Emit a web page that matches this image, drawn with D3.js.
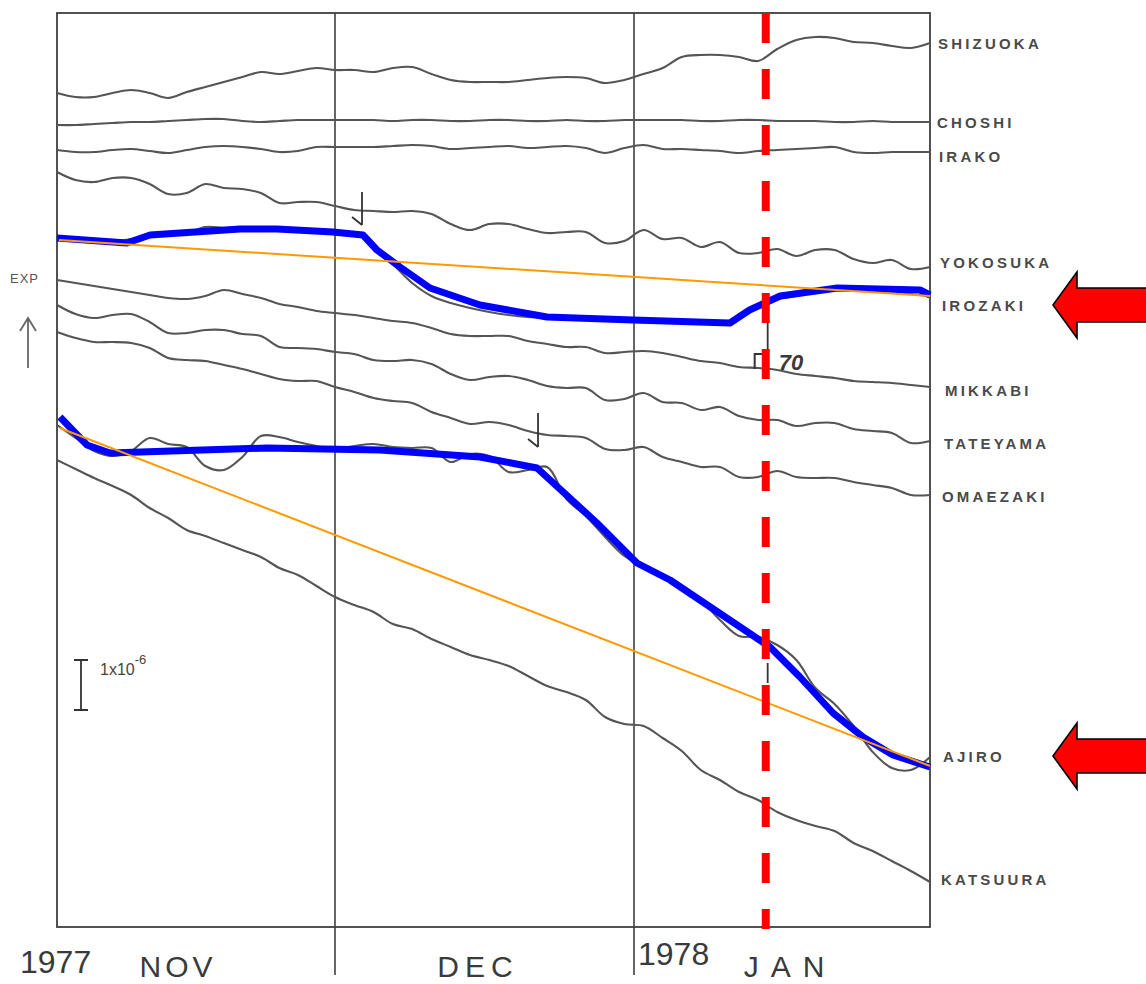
<!DOCTYPE html>
<html><head><meta charset="utf-8">
<script src="https://cdn.jsdelivr.net/npm/d3@7"></script>
<style>body{margin:0;background:#fff} svg{display:block}</style>
</head><body>
<svg id="c" width="1146" height="984"></svg>
<script>
// ---- data (strain, units of 1e-8, relative offsets per trace; EXP up) ----
const days = [0,2,4,6,8,10,12,14,16,18,20,22,24,26,28,30,
  32,34,36,38,40,42,44,46,48,50,52,54,56,58,60,
  62,64,66,68,70,72,74,76,78,80,82,84,86,88,90,92];

const shizuoka = [1668,1660,1660,1668,1674,1668,1658,1670,1680,1690,1700,1710,1706,1712,1718,1714,
  1714,1710,1718,1720,1706,1694,1690,1690,1690,1694,1698,1700,1698,1688,1694,
  1706,1718,1740,1744,1744,1740,1732,1756,1774,1780,1778,1770,1768,1762,1758,1768];
const choshi = [1604,1604,1606,1608,1610,1610,1612,1614,1616,1616,1612,1610,1612,1614,1614,1614,
  1614,1614,1612,1614,1614,1612,1612,1614,1614,1612,1612,1614,1612,1612,1614,
  1614,1614,1614,1612,1612,1614,1614,1612,1612,1612,1610,1610,1612,1610,1610,1610];
const irako = [1554,1550,1550,1554,1556,1552,1548,1554,1560,1562,1560,1556,1550,1552,1560,1560,
  1560,1560,1562,1564,1562,1556,1558,1560,1562,1558,1560,1562,1558,1548,1558,
  1564,1556,1556,1554,1552,1548,1552,1554,1556,1558,1560,1550,1548,1550,1550,1550];
const yokosuka = [1510,1494,1490,1498,1498,1486,1466,1468,1486,1478,1476,1468,1448,1450,1450,1442,
  1434,1432,1430,1432,1426,1406,1394,1406,1406,1396,1388,1390,1390,1368,1372,
  1394,1376,1378,1360,1370,1348,1348,1356,1342,1354,1354,1336,1328,1334,1316,1320];
const irozaki = [1378,1374,1372,1370,1376,1382,1386,1388,1400,1398,1396,1396,1394,1392,1390,1390,
  1388,1364,1326,1288,1262,1248,1238,1230,1224,1220,1218,1216,1214,1214,1214,
  1214,1212,1210,1210,1208,1218,1242,1256,1262,1270,1276,1276,1274,1272,1266,1262];
const mikkabi = [1294,1288,1282,1276,1270,1264,1258,1256,1262,1274,1266,1258,1246,1240,1232,1228,
  1224,1218,1212,1208,1198,1186,1182,1182,1182,1172,1166,1160,1160,1148,1150,
  1152,1148,1140,1132,1128,1120,1118,1114,1106,1102,1098,1092,1090,1088,1084,1080];
const tateyama = [1244,1226,1218,1224,1226,1210,1188,1188,1194,1194,1186,1182,1160,1158,1156,1150,
  1146,1134,1132,1134,1126,1106,1094,1100,1102,1094,1082,1078,1078,1054,1056,
  1068,1050,1048,1034,1040,1022,1014,1014,1002,1008,1008,996,992,988,968,972];
const omaezaki = [1190,1178,1170,1170,1168,1158,1138,1134,1132,1124,1116,1106,1096,1092,1092,1080,
  1070,1058,1052,1048,1030,1018,1006,1010,1004,992,984,982,978,956,954,
  960,940,930,920,920,900,900,912,900,898,898,890,884,878,864,864];
const ajiro = [1004,978,952,942,952,978,966,960,922,914,940,982,980,970,962,956,
  962,966,960,958,958,930,946,942,910,914,920,856,822,780,742,
  720,700,676,654,614,582,580,564,534,478,446,402,350,318,314,340];
const katsuura = [934,916,898,882,864,838,818,794,782,768,754,740,718,704,682,660,
  644,630,606,596,576,560,544,534,522,502,482,470,454,420,406,
  402,378,352,314,294,270,254,230,214,202,192,168,152,132,112,90];

const stations = ["SHIZUOKA","CHOSHI","IRAKO","YOKOSUKA","IROZAKI","MIKKABI","TATEYAMA","OMAEZAKI","AJIRO","KATSUURA"];
const series = [shizuoka, choshi, irako, yokosuka, irozaki, mikkabi, tateyama, omaezaki, ajiro, katsuura];
const labelValues = [1756,1598,1530,1318,1232,1062,956,850,330,84];
const labelDx = [8,7,9,10,12,15,14,12,13,11];

// hand-drawn overlay traces
const irozakiTraceDays = [0,7.55,10.04,19.75,23.74,29.78,32.9,34.35,36.74,39.85,45.03,51.98,60.9,71.05,73.1,76.3,82.3,90.95,92];
const irozakiTraceVals = [1378,1368,1384,1396,1396,1390,1384,1354,1320,1278,1244,1220,1214,1208,1234,1262,1278,1274,1264];
const ajiroTraceDays = [0.32,3.24,5.72,22.66,34.67,45.03,50.94,57.16,61.3,64.77,75.24,78.38,81.84,84.98,88.12,92];
const ajiroTraceVals = [1020,964,948,958,954,940,918,808,728,694,560,500,428,380,344,320];
const irozakiTrendDays = [0.2,92], irozakiTrendVals = [1374,1262];
const ajiroTrendDays = [0.3,92], ajiroTrendVals = [998,322];

const months = ["NOV","DEC","JAN"];
const monthStart = [0,30,61];
const endDay = 92;
const quakeDay = 74.8;
const scaleBarVals = [534,434];   // 1x10^-6 = 100 units

// ---- scales ----
const x = d3.scaleLinear().domain([0,30,61,92]).range([57,335,634,930]);
const y = d3.scaleLinear().domain([0,1828]).range([927,13]);

const svg = d3.select("#c");
const ink = "#3f3f3f";

// frame
const g = svg.append("g");
g.append("rect").attr("x",x(0)).attr("y",y(1828)).attr("width",x(endDay)-x(0)).attr("height",y(0)-y(1828))
  .attr("fill","none").attr("stroke",ink).attr("stroke-width",1.8);
monthStart.slice(1).forEach(d=>{
  g.append("line").attr("x1",x(d)).attr("x2",x(d)).attr("y1",y(1828)).attr("y2",y(0)+48)
   .attr("stroke",ink).attr("stroke-width",1.6);
});

// gray traces
const line = d3.line().x((v,i)=>x(days[i])).y(v=>y(v)).curve(d3.curveCatmullRom.alpha(0.5));
series.forEach(s=>{
  svg.append("path").attr("d",line(s)).attr("fill","none").attr("stroke","#555")
    .attr("stroke-width",2.1).attr("stroke-linejoin","round");
});

// small event marks
const mark = (d, v1, v2, hook) => {
  const p = d3.path();
  p.moveTo(x(d), y(v1)); p.lineTo(x(d), y(v2));
  if (hook) { p.moveTo(x(d)-10, y(v2)-8); p.lineTo(x(d), y(v2)); }
  svg.append("path").attr("d",p.toString()).attr("fill","none").attr("stroke","#333").attr("stroke-width",1.8);
};
mark(32.8,1470,1404,true);
mark(51.05,1028,960,true);
mark(75.0,1210,1150,false);
mark(75.0,528,488,false);
{
  const p = d3.path();
  p.moveTo(x(75.0)-1, y(1146)); p.lineTo(x(75.0)-13, y(1146)); p.lineTo(x(75.0)-13, y(1116));
  svg.append("path").attr("d",p.toString()).attr("fill","none").attr("stroke","#333").attr("stroke-width",2);
  svg.append("text").attr("x",x(75.0)+11).attr("y",y(1114)).text("70")
    .attr("font-family","Liberation Sans, Arial, sans-serif").attr("font-size",22)
    .attr("font-style","italic").attr("font-weight","bold").attr("fill","#3a3a3a");
}

// blue traces
const tline = (ds)=> d3.line().x((v,i)=>x(ds[i])).y(v=>y(v));
svg.append("path").attr("d",tline(irozakiTraceDays)(irozakiTraceVals)).attr("fill","none")
  .attr("stroke","#0000ff").attr("stroke-width",7).attr("stroke-linejoin","round").attr("stroke-linecap","butt");
svg.append("path").attr("d",tline(ajiroTraceDays)(ajiroTraceVals)).attr("fill","none")
  .attr("stroke","#0000ff").attr("stroke-width",7).attr("stroke-linejoin","round").attr("stroke-linecap","butt");

// orange trend lines
svg.append("path").attr("d",tline(irozakiTrendDays)(irozakiTrendVals)).attr("fill","none")
  .attr("stroke","#ff9900").attr("stroke-width",2);
svg.append("path").attr("d",tline(ajiroTrendDays)(ajiroTrendVals)).attr("fill","none")
  .attr("stroke","#ff9900").attr("stroke-width",2);

// red dashed quake line
svg.append("line").attr("x1",x(quakeDay)).attr("x2",x(quakeDay)).attr("y1",y(1828)).attr("y2",y(0)+2)
  .attr("stroke","#ff0000").attr("stroke-width",8).attr("stroke-dasharray","30,26");

// station labels
stations.forEach((s,i)=>{
  svg.append("text").attr("x",x(endDay)+labelDx[i]).attr("y",y(labelValues[i])).text(s)
    .attr("font-family","Liberation Sans, Arial, sans-serif").attr("font-size",15).attr("font-weight","bold")
    .attr("letter-spacing",3.2).attr("fill","#4a4a4a");
});

// red arrows pointing to IROZAKI and AJIRO labels
[4,8].forEach(i=>{
  const cy = y(labelValues[i]) - 6;
  const tip = 1053, base = 1077;
  const pts = [[tip,cy],[base,cy-33],[base,cy-17],[1150,cy-17],[1150,cy+17],[base,cy+17],[base,cy+33]];
  svg.append("polygon").attr("points",pts.map(p=>p.join(",")).join(" "))
    .attr("fill","#ff0000").attr("stroke","#000").attr("stroke-width",1.6).attr("stroke-linejoin","miter");
});

// EXP arrow
svg.append("text").attr("x",10).attr("y",283).text("EXP").attr("font-family","Liberation Sans, Arial, sans-serif")
  .attr("font-size",13).attr("letter-spacing",1).attr("fill","#555");
svg.append("path").attr("d","M28,368 L28,318 M20,331 L28,318 L36,331").attr("fill","none")
  .attr("stroke","#666").attr("stroke-width",1.8);

// scale bar
{
  const bx = 81;
  svg.append("path").attr("d",`M${bx},${y(scaleBarVals[0])} L${bx},${y(scaleBarVals[1])} M${bx-7},${y(scaleBarVals[0])} L${bx+7},${y(scaleBarVals[0])} M${bx-7},${y(scaleBarVals[1])} L${bx+7},${y(scaleBarVals[1])}`)
    .attr("stroke","#333").attr("stroke-width",1.8).attr("fill","none");
  const t = svg.append("text").attr("x",100).attr("y",675).attr("font-family","Liberation Sans, Arial, sans-serif")
    .attr("font-size",16).attr("fill","#444");
  t.append("tspan").text("1x10");
  t.append("tspan").attr("dy",-11).attr("font-size",13).text("-6");
}

// bottom axis labels
const bf = "Liberation Sans, Arial, sans-serif";
svg.append("text").attr("x",20).attr("y",973).text("1977").attr("font-family",bf).attr("font-size",32).attr("fill","#3a3a3a");
svg.append("text").attr("x",x(61)+4).attr("y",965).text("1978").attr("font-family",bf).attr("font-size",32).attr("fill","#3a3a3a");
const monthMid = [178,478,790];
const monthLS = [4,6,12];
months.forEach((m,i)=>{
  svg.append("text").attr("x",monthMid[i]).attr("y",977).attr("text-anchor","middle").text(m)
    .attr("font-family",bf).attr("font-size",30).attr("letter-spacing",monthLS[i]).attr("fill","#3a3a3a");
});
</script>
</body></html>
